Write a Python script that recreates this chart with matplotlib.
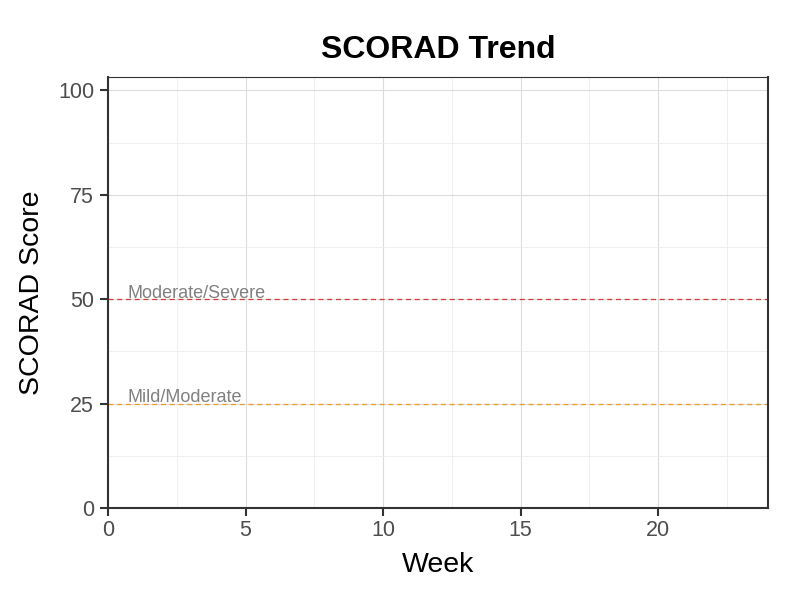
import numpy as np
import matplotlib.pyplot as plt

# threshold lines shown on the empty SCORAD panel
thresholds = [50, 25]
threshold_labels = ['Moderate/Severe', 'Mild/Moderate']
threshold_colors = ['#d03a3a', '#e89a2a']

x_ticks = [0, 5, 10, 15, 20]
y_ticks = [0, 25, 50, 75, 100]
x_minor = [2.5, 7.5, 12.5, 17.5, 22.5]
y_minor = [12.5, 37.5, 62.5, 87.5]

plt.rcParams['font.family'] = ['Liberation Sans', 'DejaVu Sans']

fig = plt.figure(figsize=(8, 6), dpi=100)
ax = fig.add_axes([0.135, 0.1533, 0.825, 0.7184])

ax.set_xlim(0, 24)
ax.set_ylim(0, 103.2)

ax.set_xticks(x_ticks)
ax.set_yticks(y_ticks)
ax.set_xticks(x_minor, minor=True)
ax.set_yticks(y_minor, minor=True)

ax.grid(which='major', color='#dcdcdc', linewidth=0.8)
ax.grid(which='minor', color='#ececec', linewidth=0.6)
ax.set_axisbelow(True)

for val, lab, col in zip(thresholds, threshold_labels, threshold_colors):
    ax.axhline(val, color=col, linestyle=(0, (4, 3)), linewidth=0.9)
    ax.text(0.7, val + 0.4, lab, color='#808080', fontsize=13,
            ha='left', va='baseline')

for side in ['left', 'bottom', 'right']:
    ax.spines[side].set_color('#333333')
    ax.spines[side].set_linewidth(1.5)
ax.spines['top'].set_color('#333333')
ax.spines['top'].set_linewidth(0.8)

ax.tick_params(which='major', direction='out', length=5.5, width=1.5,
               color='#333333', labelcolor='#4d4d4d', labelsize=15.5, pad=3)
ax.tick_params(axis='y', which='major', pad=4.5)
ax.tick_params(which='minor', length=0)

ax.set_title('SCORAD Trend', fontsize=23, fontweight='bold', pad=14)
ax.set_xlabel('Week', fontsize=20.5, labelpad=8)
ax.set_ylabel('SCORAD Score', fontsize=20.5, labelpad=9)

fig.savefig('out.png', dpi=100)
